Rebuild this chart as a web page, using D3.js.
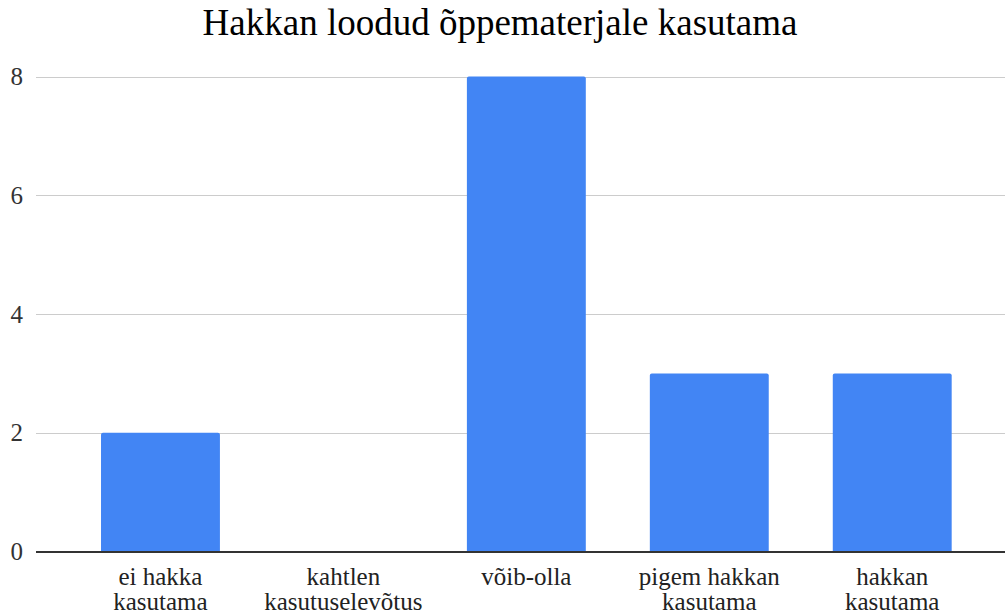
<!DOCTYPE html>
<html>
<head>
<meta charset="utf-8">
<script src="https://cdn.jsdelivr.net/npm/d3@7"></script>
</head>
<body style="margin:0">
<svg id="chart" width="1005" height="613"></svg>
<script>
const categories = [["ei hakka", "kasutama"], ["kahtlen", "kasutuselevõtus"], ["võib-olla"], ["pigem hakkan", "kasutama"], ["hakkan", "kasutama"]];
const values = [2, 0, 8, 3, 3];
const yTicks = [0, 2, 4, 6, 8];
const title = "Hakkan loodud õppematerjale kasutama";

var svg = d3.select("#chart");
var W = 1005, H = 613;
var plotLeft = 36;

function serif(sel) {
  return sel.style("font-family", "'Liberation Serif', monospace");
}

var keys = categories.map(function(c) { return c.join(" "); });

var x = d3.scaleBand()
  .domain(keys)
  .range([69, 983.7])
  .paddingInner(0.35)
  .paddingOuter(0.175);

var y = d3.scaleLinear()
  .domain([0, 8])
  .range([551.5, 76.5]);

// title
svg.append("text")
  .attr("x", 500)
  .attr("y", 35)
  .attr("text-anchor", "middle")
  .attr("font-size", 37)
  .attr("fill", "#000")
  .call(serif)
  .text(title);

// gridlines
svg.append("g")
  .selectAll("line")
  .data(yTicks.filter(function(d) { return d !== 0; }))
  .join("line")
  .attr("x1", plotLeft)
  .attr("x2", W)
  .attr("y1", function(d) { return Math.round(y(d)) + 0.5; })
  .attr("y2", function(d) { return Math.round(y(d)) + 0.5; })
  .attr("stroke", "#cccccc")
  .attr("stroke-width", 1);

// y labels
svg.append("g")
  .selectAll("text")
  .data(yTicks)
  .join("text")
  .attr("x", 23)
  .attr("y", function(d) { return y(d); })
  .attr("dy", "0.34em")
  .attr("text-anchor", "end")
  .attr("font-size", 25)
  .attr("fill", "#333")
  .call(serif)
  .text(function(d) { return d; });

// bars, top corners rounded a bit
var r = 2;
svg.append("g")
  .selectAll("path")
  .data(values.map(function(v, i) { return {k: keys[i], v: v}; }).filter(function(d) { return d.v > 0; }))
  .join("path")
  .attr("fill", "#4285f4")
  .attr("d", function(d) {
    var x0 = x(d.k), x1 = x0 + x.bandwidth(), y0 = y(0), y1 = y(d.v);
    return "M" + x0 + "," + y0 + "V" + (y1 + r) + "Q" + x0 + "," + y1 + " " + (x0 + r) + "," + y1 +
      "H" + (x1 - r) + "Q" + x1 + "," + y1 + " " + x1 + "," + (y1 + r) + "V" + y0 + "Z";
  });

// zero line
svg.append("line")
  .attr("x1", plotLeft)
  .attr("x2", W)
  .attr("y1", y(0) + 0.5)
  .attr("y2", y(0) + 0.5)
  .attr("stroke", "#333")
  .attr("stroke-width", 2);

// x labels
var gx = svg.append("g");
categories.forEach(function(lines, i) {
  var cx = x(keys[i]) + x.bandwidth() / 2;
  var t = gx.append("text")
    .attr("x", cx)
    .attr("y", 585)
    .attr("text-anchor", "middle")
    .attr("font-size", 25)
    .attr("fill", "#222")
    .call(serif);
  lines.forEach(function(l, j) {
    t.append("tspan")
      .attr("x", cx)
      .attr("dy", j === 0 ? 0 : 24.5)
      .text(l);
  });
});
</script>
</body>
</html>
